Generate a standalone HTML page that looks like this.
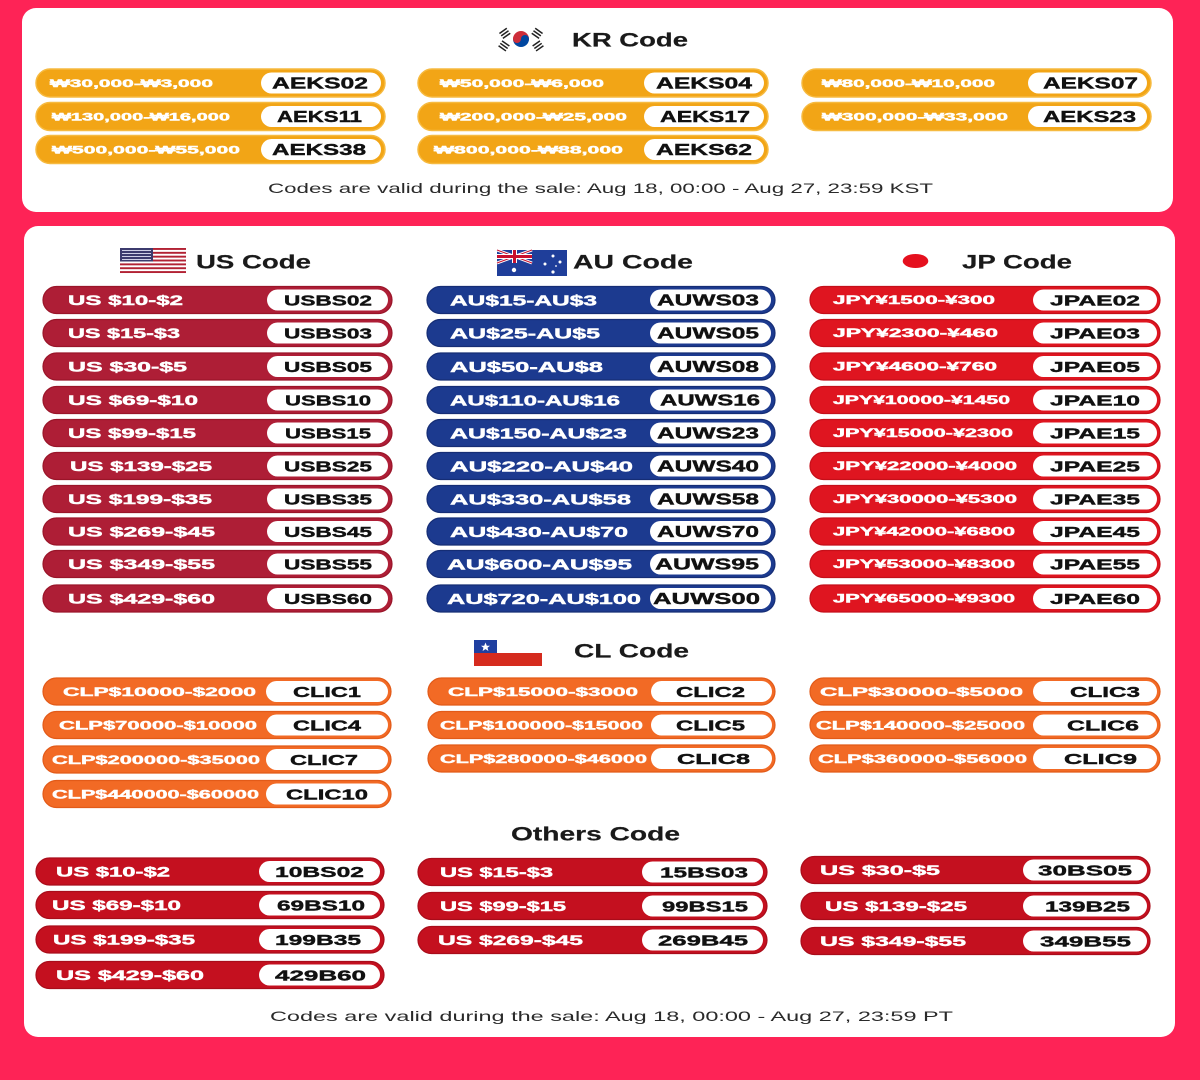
<!DOCTYPE html>
<html><head><meta charset="utf-8"><style>
html,body{margin:0;padding:0;background:#FE2356;}
svg{display:block}
text{font-family:"Liberation Sans","DejaVu Sans",sans-serif;}
.l{fill:#fff;font-weight:700;stroke:#fff;stroke-width:0.45px}
.c{fill:#111;font-weight:700;stroke:#111;stroke-width:0.4px}
.h{fill:#1a1a1a;font-weight:700;font-size:19px;stroke:#1a1a1a;stroke-width:0.2px}
.f{fill:#2a2a2a;font-weight:400;font-size:14px}
</style></head><body>
<svg width="1200" height="1080" viewBox="0 0 1200 1080" xmlns="http://www.w3.org/2000/svg">
<rect x="0" y="0" width="1200" height="1080" fill="#FE2356"/>
<rect x="22" y="8" width="1151" height="204" rx="14" fill="#fff"/>
<rect x="24" y="226" width="1151" height="811" rx="14" fill="#fff"/>

<!-- KR header -->
<rect x="497" y="28" width="48" height="22" fill="#fff"/>
<path d="M513,39 A8,8 0 0 1 529,39 Z" fill="#CD2E3A"/>
<path d="M513,39 A8,8 0 0 0 529,39 Z" fill="#0047A0"/>
<circle cx="517" cy="39" r="4" fill="#CD2E3A"/>
<circle cx="525" cy="39" r="4" fill="#0047A0"/>
<g fill="#222">
<rect x="500" y="30" width="9" height="1.5" transform="rotate(-35 504 33)"/><rect x="500" y="33" width="9" height="1.5" transform="rotate(-35 504 33)"/><rect x="500" y="36" width="9" height="1.5" transform="rotate(-35 504 33)"/>
<rect x="533" y="30" width="9" height="1.5" transform="rotate(35 538 33)"/><rect x="533" y="33" width="9" height="1.5" transform="rotate(35 538 33)"/><rect x="533" y="36" width="9" height="1.5" transform="rotate(35 538 33)"/>
<rect x="500" y="42" width="9" height="1.5" transform="rotate(35 504 45)"/><rect x="500" y="45" width="9" height="1.5" transform="rotate(35 504 45)"/><rect x="500" y="48" width="9" height="1.5" transform="rotate(35 504 45)"/>
<rect x="533" y="42" width="9" height="1.5" transform="rotate(-35 538 45)"/><rect x="533" y="45" width="9" height="1.5" transform="rotate(-35 538 45)"/><rect x="533" y="48" width="9" height="1.5" transform="rotate(-35 538 45)"/>
</g>
<text class="h" x="572" y="46.5" textLength="116" lengthAdjust="spacingAndGlyphs">KR Code</text>

<!-- KR pills -->
<g>
<rect x="36" y="69" width="349" height="28" rx="14" fill="#F2A516" stroke="#F6BA40" stroke-width="1.5"/>
<rect x="261" y="72.5" width="120" height="21" rx="10.5" fill="#fff"/>
<text class="l" x="50" y="87" font-size="11" textLength="163" lengthAdjust="spacingAndGlyphs">₩30,000-₩3,000</text>
<text class="c" x="272" y="88.7" font-size="16" textLength="96" lengthAdjust="spacingAndGlyphs">AEKS02</text>
<rect x="36" y="102.5" width="349" height="28" rx="14" fill="#F2A516" stroke="#F6BA40" stroke-width="1.5"/>
<rect x="261" y="106" width="120" height="21" rx="10.5" fill="#fff"/>
<text class="l" x="52" y="120.5" font-size="11" textLength="178" lengthAdjust="spacingAndGlyphs">₩130,000-₩16,000</text>
<text class="c" x="277" y="122.2" font-size="16" textLength="85" lengthAdjust="spacingAndGlyphs">AEKS11</text>
<rect x="36" y="135.5" width="349" height="28" rx="14" fill="#F2A516" stroke="#F6BA40" stroke-width="1.5"/>
<rect x="261" y="139" width="120" height="21" rx="10.5" fill="#fff"/>
<text class="l" x="52" y="153.5" font-size="11" textLength="188" lengthAdjust="spacingAndGlyphs">₩500,000-₩55,000</text>
<text class="c" x="272" y="155.2" font-size="16" textLength="94" lengthAdjust="spacingAndGlyphs">AEKS38</text>

<rect x="418" y="69" width="350" height="28" rx="14" fill="#F2A516" stroke="#F6BA40" stroke-width="1.5"/>
<rect x="644" y="72.5" width="120" height="21" rx="10.5" fill="#fff"/>
<text class="l" x="440" y="87" font-size="11" textLength="164" lengthAdjust="spacingAndGlyphs">₩50,000-₩6,000</text>
<text class="c" x="656" y="88.7" font-size="16" textLength="96" lengthAdjust="spacingAndGlyphs">AEKS04</text>
<rect x="418" y="102.5" width="350" height="28" rx="14" fill="#F2A516" stroke="#F6BA40" stroke-width="1.5"/>
<rect x="644" y="106" width="120" height="21" rx="10.5" fill="#fff"/>
<text class="l" x="440" y="120.5" font-size="11" textLength="187" lengthAdjust="spacingAndGlyphs">₩200,000-₩25,000</text>
<text class="c" x="660" y="122.2" font-size="16" textLength="90" lengthAdjust="spacingAndGlyphs">AEKS17</text>
<rect x="418" y="135.5" width="350" height="28" rx="14" fill="#F2A516" stroke="#F6BA40" stroke-width="1.5"/>
<rect x="644" y="139" width="120" height="21" rx="10.5" fill="#fff"/>
<text class="l" x="434" y="153.5" font-size="11" textLength="189" lengthAdjust="spacingAndGlyphs">₩800,000-₩88,000</text>
<text class="c" x="656" y="155.2" font-size="16" textLength="96" lengthAdjust="spacingAndGlyphs">AEKS62</text>

<rect x="802" y="69" width="349" height="28" rx="14" fill="#F2A516" stroke="#F6BA40" stroke-width="1.5"/>
<rect x="1028" y="72.5" width="119" height="21" rx="10.5" fill="#fff"/>
<text class="l" x="822" y="87" font-size="11" textLength="173" lengthAdjust="spacingAndGlyphs">₩80,000-₩10,000</text>
<text class="c" x="1043" y="88.7" font-size="16" textLength="95" lengthAdjust="spacingAndGlyphs">AEKS07</text>
<rect x="802" y="102.5" width="349" height="28" rx="14" fill="#F2A516" stroke="#F6BA40" stroke-width="1.5"/>
<rect x="1028" y="106" width="119" height="21" rx="10.5" fill="#fff"/>
<text class="l" x="822" y="120.5" font-size="11" textLength="186" lengthAdjust="spacingAndGlyphs">₩300,000-₩33,000</text>
<text class="c" x="1043" y="122.2" font-size="16" textLength="93" lengthAdjust="spacingAndGlyphs">AEKS23</text>
</g>
<text class="f" x="268" y="193" textLength="665" lengthAdjust="spacingAndGlyphs">Codes are valid during the sale: Aug 18, 00:00 - Aug 27, 23:59 KST</text>

<!-- US flag -->
<rect x="120" y="248" width="66" height="25" fill="#fff"/>
<g fill="#B22234">
<rect x="120" y="248" width="66" height="1.92"/><rect x="120" y="251.85" width="66" height="1.92"/><rect x="120" y="255.7" width="66" height="1.92"/><rect x="120" y="259.55" width="66" height="1.92"/><rect x="120" y="263.4" width="66" height="1.92"/><rect x="120" y="267.25" width="66" height="1.92"/><rect x="120" y="271.1" width="66" height="1.92"/>
</g>
<rect x="120" y="248" width="33" height="13.5" fill="#3C3B6E"/>
<g fill="#cfd0e6"><rect x="122" y="250" width="29" height="1"/><rect x="122" y="253" width="29" height="1"/><rect x="122" y="256" width="29" height="1"/><rect x="122" y="259" width="29" height="1"/></g>
<text class="h" x="196" y="268.5" textLength="115" lengthAdjust="spacingAndGlyphs">US Code</text>

<!-- AU flag -->
<rect x="497" y="250" width="70" height="26" fill="#1F3E9A"/>
<g>
<path d="M497,250 L532,263 M532,250 L497,263" stroke="#fff" stroke-width="3"/>
<path d="M497,250 L532,263 M532,250 L497,263" stroke="#C8102E" stroke-width="1"/>
<rect x="512" y="250" width="5" height="13" fill="#fff"/><rect x="497" y="254" width="35" height="5" fill="#fff"/>
<rect x="513" y="250" width="3" height="13" fill="#C8102E"/><rect x="497" y="255" width="35" height="3" fill="#C8102E"/>
</g>
<g fill="#fff"><circle cx="514" cy="270" r="2.2"/><circle cx="553" cy="256" r="1.5"/><circle cx="545" cy="264" r="1.5"/><circle cx="560" cy="262" r="1.5"/><circle cx="553" cy="272" r="1.6"/><circle cx="556" cy="266" r="0.9"/></g>
<text class="h" x="573" y="268.5" textLength="120" lengthAdjust="spacingAndGlyphs">AU Code</text>

<!-- JP -->
<ellipse cx="915.5" cy="261" rx="12.8" ry="7" fill="#E5101E"/>
<text class="h" x="962" y="268.5" textLength="110" lengthAdjust="spacingAndGlyphs">JP Code</text>

<!-- US pills -->
<g>
<rect x="43" y="286.5" width="349" height="27" rx="13.5" fill="#AE1E36" stroke="#9A1529" stroke-width="1.2"/><rect x="267" y="289.5" width="121" height="21" rx="10.5" fill="#fff"/>
<text class="l" x="68" y="305" font-size="14" textLength="115" lengthAdjust="spacingAndGlyphs">US $10-$2</text><text class="c" x="284" y="305.4" font-size="15" textLength="88" lengthAdjust="spacingAndGlyphs">USBS02</text>
<rect x="43" y="319.5" width="349" height="27" rx="13.5" fill="#AE1E36" stroke="#9A1529" stroke-width="1.2"/><rect x="267" y="322.5" width="121" height="21" rx="10.5" fill="#fff"/>
<text class="l" x="68" y="338" font-size="14" textLength="112" lengthAdjust="spacingAndGlyphs">US $15-$3</text><text class="c" x="284" y="338.4" font-size="15" textLength="88" lengthAdjust="spacingAndGlyphs">USBS03</text>
<rect x="43" y="353" width="349" height="27" rx="13.5" fill="#AE1E36" stroke="#9A1529" stroke-width="1.2"/><rect x="267" y="356" width="121" height="21" rx="10.5" fill="#fff"/>
<text class="l" x="68" y="371.5" font-size="14" textLength="119" lengthAdjust="spacingAndGlyphs">US $30-$5</text><text class="c" x="284" y="371.9" font-size="15" textLength="88" lengthAdjust="spacingAndGlyphs">USBS05</text>
<rect x="43" y="386.5" width="349" height="27" rx="13.5" fill="#AE1E36" stroke="#9A1529" stroke-width="1.2"/><rect x="267" y="389.5" width="121" height="21" rx="10.5" fill="#fff"/>
<text class="l" x="68" y="405" font-size="14" textLength="130" lengthAdjust="spacingAndGlyphs">US $69-$10</text><text class="c" x="285" y="405.4" font-size="15" textLength="86" lengthAdjust="spacingAndGlyphs">USBS10</text>
<rect x="43" y="419.5" width="349" height="27" rx="13.5" fill="#AE1E36" stroke="#9A1529" stroke-width="1.2"/><rect x="267" y="422.5" width="121" height="21" rx="10.5" fill="#fff"/>
<text class="l" x="68" y="438" font-size="14" textLength="128" lengthAdjust="spacingAndGlyphs">US $99-$15</text><text class="c" x="285" y="438.4" font-size="15" textLength="86" lengthAdjust="spacingAndGlyphs">USBS15</text>
<rect x="43" y="452.5" width="349" height="27" rx="13.5" fill="#AE1E36" stroke="#9A1529" stroke-width="1.2"/><rect x="267" y="455.5" width="121" height="21" rx="10.5" fill="#fff"/>
<text class="l" x="70" y="471" font-size="14" textLength="142" lengthAdjust="spacingAndGlyphs">US $139-$25</text><text class="c" x="284" y="471.4" font-size="15" textLength="88" lengthAdjust="spacingAndGlyphs">USBS25</text>
<rect x="43" y="485.5" width="349" height="27" rx="13.5" fill="#AE1E36" stroke="#9A1529" stroke-width="1.2"/><rect x="267" y="488.5" width="121" height="21" rx="10.5" fill="#fff"/>
<text class="l" x="68" y="504" font-size="14" textLength="144" lengthAdjust="spacingAndGlyphs">US $199-$35</text><text class="c" x="284" y="504.4" font-size="15" textLength="88" lengthAdjust="spacingAndGlyphs">USBS35</text>
<rect x="43" y="518" width="349" height="27" rx="13.5" fill="#AE1E36" stroke="#9A1529" stroke-width="1.2"/><rect x="267" y="521" width="121" height="21" rx="10.5" fill="#fff"/>
<text class="l" x="68" y="536.5" font-size="14" textLength="147" lengthAdjust="spacingAndGlyphs">US $269-$45</text><text class="c" x="284" y="536.9" font-size="15" textLength="88" lengthAdjust="spacingAndGlyphs">USBS45</text>
<rect x="43" y="550.5" width="349" height="27" rx="13.5" fill="#AE1E36" stroke="#9A1529" stroke-width="1.2"/><rect x="267" y="553.5" width="121" height="21" rx="10.5" fill="#fff"/>
<text class="l" x="68" y="569" font-size="14" textLength="147" lengthAdjust="spacingAndGlyphs">US $349-$55</text><text class="c" x="284" y="569.4" font-size="15" textLength="88" lengthAdjust="spacingAndGlyphs">USBS55</text>
<rect x="43" y="585" width="349" height="27" rx="13.5" fill="#AE1E36" stroke="#9A1529" stroke-width="1.2"/><rect x="267" y="588" width="121" height="21" rx="10.5" fill="#fff"/>
<text class="l" x="68" y="603.5" font-size="14" textLength="147" lengthAdjust="spacingAndGlyphs">US $429-$60</text><text class="c" x="284" y="603.9" font-size="15" textLength="88" lengthAdjust="spacingAndGlyphs">USBS60</text>
</g>

<!-- AU pills -->
<g>
<rect x="427" y="286.5" width="348" height="27" rx="13.5" fill="#1C3A8F" stroke="#152D75" stroke-width="1.2"/><rect x="650" y="289.5" width="121" height="21" rx="10.5" fill="#fff"/>
<text class="l" x="450" y="305.3" font-size="15" textLength="147" lengthAdjust="spacingAndGlyphs">AU$15-AU$3</text><text class="c" x="657" y="305.7" font-size="16" textLength="102" lengthAdjust="spacingAndGlyphs">AUWS03</text>
<rect x="427" y="319.5" width="348" height="27" rx="13.5" fill="#1C3A8F" stroke="#152D75" stroke-width="1.2"/><rect x="650" y="322.5" width="121" height="21" rx="10.5" fill="#fff"/>
<text class="l" x="450" y="338.3" font-size="15" textLength="150" lengthAdjust="spacingAndGlyphs">AU$25-AU$5</text><text class="c" x="657" y="338.7" font-size="16" textLength="102" lengthAdjust="spacingAndGlyphs">AUWS05</text>
<rect x="427" y="353" width="348" height="27" rx="13.5" fill="#1C3A8F" stroke="#152D75" stroke-width="1.2"/><rect x="650" y="356" width="121" height="21" rx="10.5" fill="#fff"/>
<text class="l" x="450" y="371.8" font-size="15" textLength="153" lengthAdjust="spacingAndGlyphs">AU$50-AU$8</text><text class="c" x="657" y="372.2" font-size="16" textLength="102" lengthAdjust="spacingAndGlyphs">AUWS08</text>
<rect x="427" y="386.5" width="348" height="27" rx="13.5" fill="#1C3A8F" stroke="#152D75" stroke-width="1.2"/><rect x="650" y="389.5" width="121" height="21" rx="10.5" fill="#fff"/>
<text class="l" x="450" y="405.3" font-size="15" textLength="170" lengthAdjust="spacingAndGlyphs">AU$110-AU$16</text><text class="c" x="660" y="405.7" font-size="16" textLength="100" lengthAdjust="spacingAndGlyphs">AUWS16</text>
<rect x="427" y="419.5" width="348" height="27" rx="13.5" fill="#1C3A8F" stroke="#152D75" stroke-width="1.2"/><rect x="650" y="422.5" width="121" height="21" rx="10.5" fill="#fff"/>
<text class="l" x="450" y="438.3" font-size="15" textLength="177" lengthAdjust="spacingAndGlyphs">AU$150-AU$23</text><text class="c" x="657" y="438.7" font-size="16" textLength="102" lengthAdjust="spacingAndGlyphs">AUWS23</text>
<rect x="427" y="452.5" width="348" height="27" rx="13.5" fill="#1C3A8F" stroke="#152D75" stroke-width="1.2"/><rect x="650" y="455.5" width="121" height="21" rx="10.5" fill="#fff"/>
<text class="l" x="450" y="471.3" font-size="15" textLength="183" lengthAdjust="spacingAndGlyphs">AU$220-AU$40</text><text class="c" x="657" y="471.7" font-size="16" textLength="102" lengthAdjust="spacingAndGlyphs">AUWS40</text>
<rect x="427" y="485.5" width="348" height="27" rx="13.5" fill="#1C3A8F" stroke="#152D75" stroke-width="1.2"/><rect x="650" y="488.5" width="121" height="21" rx="10.5" fill="#fff"/>
<text class="l" x="450" y="504.3" font-size="15" textLength="181" lengthAdjust="spacingAndGlyphs">AU$330-AU$58</text><text class="c" x="657" y="504.7" font-size="16" textLength="102" lengthAdjust="spacingAndGlyphs">AUWS58</text>
<rect x="427" y="518" width="348" height="27" rx="13.5" fill="#1C3A8F" stroke="#152D75" stroke-width="1.2"/><rect x="650" y="521" width="121" height="21" rx="10.5" fill="#fff"/>
<text class="l" x="450" y="536.8" font-size="15" textLength="178" lengthAdjust="spacingAndGlyphs">AU$430-AU$70</text><text class="c" x="657" y="537.2" font-size="16" textLength="102" lengthAdjust="spacingAndGlyphs">AUWS70</text>
<rect x="427" y="550.5" width="348" height="27" rx="13.5" fill="#1C3A8F" stroke="#152D75" stroke-width="1.2"/><rect x="650" y="553.5" width="121" height="21" rx="10.5" fill="#fff"/>
<text class="l" x="447" y="569.3" font-size="15" textLength="185" lengthAdjust="spacingAndGlyphs">AU$600-AU$95</text><text class="c" x="655" y="569.7" font-size="16" textLength="104" lengthAdjust="spacingAndGlyphs">AUWS95</text>
<rect x="427" y="585" width="348" height="27" rx="13.5" fill="#1C3A8F" stroke="#152D75" stroke-width="1.2"/><rect x="650" y="588" width="121" height="21" rx="10.5" fill="#fff"/>
<text class="l" x="447" y="603.8" font-size="15" textLength="194" lengthAdjust="spacingAndGlyphs">AU$720-AU$100</text><text class="c" x="653" y="604.2" font-size="16" textLength="107" lengthAdjust="spacingAndGlyphs">AUWS00</text>
</g>

<!-- JP pills -->
<g>
<rect x="810" y="286.5" width="350" height="27" rx="13.5" fill="#DF1520" stroke="#C50F19" stroke-width="1.2"/><rect x="1033" y="289.5" width="124" height="21" rx="10.5" fill="#fff"/>
<text class="l" x="833" y="304.1" font-size="11.5" textLength="162" lengthAdjust="spacingAndGlyphs">JPY¥1500-¥300</text><text class="c" x="1050" y="305.4" font-size="15" textLength="90" lengthAdjust="spacingAndGlyphs">JPAE02</text>
<rect x="810" y="319.5" width="350" height="27" rx="13.5" fill="#DF1520" stroke="#C50F19" stroke-width="1.2"/><rect x="1033" y="322.5" width="124" height="21" rx="10.5" fill="#fff"/>
<text class="l" x="833" y="337.1" font-size="11.5" textLength="165" lengthAdjust="spacingAndGlyphs">JPY¥2300-¥460</text><text class="c" x="1050" y="338.4" font-size="15" textLength="90" lengthAdjust="spacingAndGlyphs">JPAE03</text>
<rect x="810" y="353" width="350" height="27" rx="13.5" fill="#DF1520" stroke="#C50F19" stroke-width="1.2"/><rect x="1033" y="356" width="124" height="21" rx="10.5" fill="#fff"/>
<text class="l" x="833" y="370.6" font-size="11.5" textLength="164" lengthAdjust="spacingAndGlyphs">JPY¥4600-¥760</text><text class="c" x="1050" y="371.9" font-size="15" textLength="90" lengthAdjust="spacingAndGlyphs">JPAE05</text>
<rect x="810" y="386.5" width="350" height="27" rx="13.5" fill="#DF1520" stroke="#C50F19" stroke-width="1.2"/><rect x="1033" y="389.5" width="124" height="21" rx="10.5" fill="#fff"/>
<text class="l" x="833" y="404.1" font-size="11.5" textLength="177" lengthAdjust="spacingAndGlyphs">JPY¥10000-¥1450</text><text class="c" x="1050" y="405.4" font-size="15" textLength="90" lengthAdjust="spacingAndGlyphs">JPAE10</text>
<rect x="810" y="419.5" width="350" height="27" rx="13.5" fill="#DF1520" stroke="#C50F19" stroke-width="1.2"/><rect x="1033" y="422.5" width="124" height="21" rx="10.5" fill="#fff"/>
<text class="l" x="833" y="437.1" font-size="11.5" textLength="180" lengthAdjust="spacingAndGlyphs">JPY¥15000-¥2300</text><text class="c" x="1050" y="438.4" font-size="15" textLength="90" lengthAdjust="spacingAndGlyphs">JPAE15</text>
<rect x="810" y="452.5" width="350" height="27" rx="13.5" fill="#DF1520" stroke="#C50F19" stroke-width="1.2"/><rect x="1033" y="455.5" width="124" height="21" rx="10.5" fill="#fff"/>
<text class="l" x="833" y="470.1" font-size="11.5" textLength="184" lengthAdjust="spacingAndGlyphs">JPY¥22000-¥4000</text><text class="c" x="1050" y="471.4" font-size="15" textLength="90" lengthAdjust="spacingAndGlyphs">JPAE25</text>
<rect x="810" y="485.5" width="350" height="27" rx="13.5" fill="#DF1520" stroke="#C50F19" stroke-width="1.2"/><rect x="1033" y="488.5" width="124" height="21" rx="10.5" fill="#fff"/>
<text class="l" x="833" y="503.1" font-size="11.5" textLength="184" lengthAdjust="spacingAndGlyphs">JPY¥30000-¥5300</text><text class="c" x="1050" y="504.4" font-size="15" textLength="90" lengthAdjust="spacingAndGlyphs">JPAE35</text>
<rect x="810" y="518" width="350" height="27" rx="13.5" fill="#DF1520" stroke="#C50F19" stroke-width="1.2"/><rect x="1033" y="521" width="124" height="21" rx="10.5" fill="#fff"/>
<text class="l" x="833" y="535.6" font-size="11.5" textLength="182" lengthAdjust="spacingAndGlyphs">JPY¥42000-¥6800</text><text class="c" x="1050" y="536.9" font-size="15" textLength="90" lengthAdjust="spacingAndGlyphs">JPAE45</text>
<rect x="810" y="550.5" width="350" height="27" rx="13.5" fill="#DF1520" stroke="#C50F19" stroke-width="1.2"/><rect x="1033" y="553.5" width="124" height="21" rx="10.5" fill="#fff"/>
<text class="l" x="833" y="568.1" font-size="11.5" textLength="182" lengthAdjust="spacingAndGlyphs">JPY¥53000-¥8300</text><text class="c" x="1050" y="569.4" font-size="15" textLength="90" lengthAdjust="spacingAndGlyphs">JPAE55</text>
<rect x="810" y="585" width="350" height="27" rx="13.5" fill="#DF1520" stroke="#C50F19" stroke-width="1.2"/><rect x="1033" y="588" width="124" height="21" rx="10.5" fill="#fff"/>
<text class="l" x="833" y="602.6" font-size="11.5" textLength="182" lengthAdjust="spacingAndGlyphs">JPY¥65000-¥9300</text><text class="c" x="1050" y="603.9" font-size="15" textLength="90" lengthAdjust="spacingAndGlyphs">JPAE60</text>
</g>

<!-- CL header -->
<rect x="474" y="640" width="68" height="13" fill="#fff"/>
<rect x="474" y="653" width="68" height="13" fill="#D52B1E"/>
<rect x="474" y="640" width="23" height="13" fill="#1F3FA0"/>
<polygon points="485.5,642.5 486.8,645.7 490,645.8 487.5,647.8 488.4,651 485.5,649.1 482.6,651 483.5,647.8 481,645.8 484.2,645.7" fill="#fff"/>
<text class="h" x="574" y="657.5" textLength="115" lengthAdjust="spacingAndGlyphs">CL Code</text>

<!-- CL pills -->
<g>
<rect x="43" y="678" width="348" height="27" rx="13.5" fill="#F26A25" stroke="#E25A18" stroke-width="1.2"/><rect x="266" y="681" width="122" height="21" rx="10.5" fill="#fff"/>
<text class="l" x="63" y="695.8" font-size="12" textLength="193" lengthAdjust="spacingAndGlyphs">CLP$10000-$2000</text><text class="c" x="293" y="696.9" font-size="15" textLength="68" lengthAdjust="spacingAndGlyphs">CLIC1</text>
<rect x="43" y="711.5" width="348" height="27" rx="13.5" fill="#F26A25" stroke="#E25A18" stroke-width="1.2"/><rect x="266" y="714.5" width="122" height="21" rx="10.5" fill="#fff"/>
<text class="l" x="59" y="729.3" font-size="12" textLength="198" lengthAdjust="spacingAndGlyphs">CLP$70000-$10000</text><text class="c" x="293" y="730.4" font-size="15" textLength="68" lengthAdjust="spacingAndGlyphs">CLIC4</text>
<rect x="43" y="746" width="348" height="27" rx="13.5" fill="#F26A25" stroke="#E25A18" stroke-width="1.2"/><rect x="266" y="749" width="122" height="21" rx="10.5" fill="#fff"/>
<text class="l" x="52" y="763.8" font-size="12" textLength="208" lengthAdjust="spacingAndGlyphs">CLP$200000-$35000</text><text class="c" x="290" y="764.9" font-size="15" textLength="68" lengthAdjust="spacingAndGlyphs">CLIC7</text>
<rect x="43" y="780.5" width="348" height="27" rx="13.5" fill="#F26A25" stroke="#E25A18" stroke-width="1.2"/><rect x="266" y="783.5" width="122" height="21" rx="10.5" fill="#fff"/>
<text class="l" x="52" y="798.3" font-size="12" textLength="207" lengthAdjust="spacingAndGlyphs">CLP$440000-$60000</text><text class="c" x="286" y="799.4" font-size="15" textLength="82" lengthAdjust="spacingAndGlyphs">CLIC10</text>

<rect x="428" y="678" width="347" height="27" rx="13.5" fill="#F26A25" stroke="#E25A18" stroke-width="1.2"/><rect x="651" y="681" width="121" height="21" rx="10.5" fill="#fff"/>
<text class="l" x="448" y="695.8" font-size="12" textLength="190" lengthAdjust="spacingAndGlyphs">CLP$15000-$3000</text><text class="c" x="676" y="696.9" font-size="15" textLength="69" lengthAdjust="spacingAndGlyphs">CLIC2</text>
<rect x="428" y="711.5" width="347" height="27" rx="13.5" fill="#F26A25" stroke="#E25A18" stroke-width="1.2"/><rect x="651" y="714.5" width="121" height="21" rx="10.5" fill="#fff"/>
<text class="l" x="440" y="729.3" font-size="12" textLength="203" lengthAdjust="spacingAndGlyphs">CLP$100000-$15000</text><text class="c" x="676" y="730.4" font-size="15" textLength="69" lengthAdjust="spacingAndGlyphs">CLIC5</text>
<rect x="428" y="745" width="347" height="27" rx="13.5" fill="#F26A25" stroke="#E25A18" stroke-width="1.2"/><rect x="651" y="748" width="121" height="21" rx="10.5" fill="#fff"/>
<text class="l" x="440" y="762.8" font-size="12" textLength="207" lengthAdjust="spacingAndGlyphs">CLP$280000-$46000</text><text class="c" x="677" y="763.9" font-size="15" textLength="73" lengthAdjust="spacingAndGlyphs">CLIC8</text>

<rect x="810" y="678" width="350" height="27" rx="13.5" fill="#F26A25" stroke="#E25A18" stroke-width="1.2"/><rect x="1033" y="681" width="124" height="21" rx="10.5" fill="#fff"/>
<text class="l" x="820" y="695.8" font-size="12" textLength="203" lengthAdjust="spacingAndGlyphs">CLP$30000-$5000</text><text class="c" x="1070" y="696.9" font-size="15" textLength="70" lengthAdjust="spacingAndGlyphs">CLIC3</text>
<rect x="810" y="711.5" width="350" height="27" rx="13.5" fill="#F26A25" stroke="#E25A18" stroke-width="1.2"/><rect x="1033" y="714.5" width="124" height="21" rx="10.5" fill="#fff"/>
<text class="l" x="816" y="729.3" font-size="12" textLength="209" lengthAdjust="spacingAndGlyphs">CLP$140000-$25000</text><text class="c" x="1067" y="730.4" font-size="15" textLength="72" lengthAdjust="spacingAndGlyphs">CLIC6</text>
<rect x="810" y="745" width="350" height="27" rx="13.5" fill="#F26A25" stroke="#E25A18" stroke-width="1.2"/><rect x="1033" y="748" width="124" height="21" rx="10.5" fill="#fff"/>
<text class="l" x="818" y="762.8" font-size="12" textLength="209" lengthAdjust="spacingAndGlyphs">CLP$360000-$56000</text><text class="c" x="1064" y="763.9" font-size="15" textLength="73" lengthAdjust="spacingAndGlyphs">CLIC9</text>
</g>

<!-- Others -->
<text class="h" x="511" y="840.5" textLength="169" lengthAdjust="spacingAndGlyphs">Others Code</text>
<g>
<rect x="36" y="858" width="348" height="27" rx="13.5" fill="#C4101F" stroke="#A90C1A" stroke-width="1.2"/><rect x="259" y="861" width="121" height="21" rx="10.5" fill="#fff"/>
<text class="l" x="56" y="876.5" font-size="14" textLength="114" lengthAdjust="spacingAndGlyphs">US $10-$2</text><text class="c" x="275" y="876.9" font-size="15" textLength="89" lengthAdjust="spacingAndGlyphs">10BS02</text>
<rect x="36" y="891.5" width="348" height="27" rx="13.5" fill="#C4101F" stroke="#A90C1A" stroke-width="1.2"/><rect x="259" y="894.5" width="121" height="21" rx="10.5" fill="#fff"/>
<text class="l" x="52" y="910" font-size="14" textLength="129" lengthAdjust="spacingAndGlyphs">US $69-$10</text><text class="c" x="277" y="910.4" font-size="15" textLength="88" lengthAdjust="spacingAndGlyphs">69BS10</text>
<rect x="36" y="926" width="348" height="27" rx="13.5" fill="#C4101F" stroke="#A90C1A" stroke-width="1.2"/><rect x="259" y="929" width="121" height="21" rx="10.5" fill="#fff"/>
<text class="l" x="53" y="944.5" font-size="14" textLength="142" lengthAdjust="spacingAndGlyphs">US $199-$35</text><text class="c" x="275" y="944.9" font-size="15" textLength="86" lengthAdjust="spacingAndGlyphs">199B35</text>
<rect x="36" y="961.5" width="348" height="27" rx="13.5" fill="#C4101F" stroke="#A90C1A" stroke-width="1.2"/><rect x="259" y="964.5" width="121" height="21" rx="10.5" fill="#fff"/>
<text class="l" x="56" y="980" font-size="14" textLength="148" lengthAdjust="spacingAndGlyphs">US $429-$60</text><text class="c" x="275" y="980.4" font-size="15" textLength="91" lengthAdjust="spacingAndGlyphs">429B60</text>

<rect x="418" y="858.5" width="349" height="27" rx="13.5" fill="#C4101F" stroke="#A90C1A" stroke-width="1.2"/><rect x="642" y="861.5" width="121" height="21" rx="10.5" fill="#fff"/>
<text class="l" x="440" y="877" font-size="14" textLength="113" lengthAdjust="spacingAndGlyphs">US $15-$3</text><text class="c" x="660" y="877.4" font-size="15" textLength="88" lengthAdjust="spacingAndGlyphs">15BS03</text>
<rect x="418" y="892.5" width="349" height="27" rx="13.5" fill="#C4101F" stroke="#A90C1A" stroke-width="1.2"/><rect x="642" y="895.5" width="121" height="21" rx="10.5" fill="#fff"/>
<text class="l" x="440" y="911" font-size="14" textLength="126" lengthAdjust="spacingAndGlyphs">US $99-$15</text><text class="c" x="662" y="911.4" font-size="15" textLength="86" lengthAdjust="spacingAndGlyphs">99BS15</text>
<rect x="418" y="926.5" width="349" height="27" rx="13.5" fill="#C4101F" stroke="#A90C1A" stroke-width="1.2"/><rect x="642" y="929.5" width="121" height="21" rx="10.5" fill="#fff"/>
<text class="l" x="438" y="945" font-size="14" textLength="145" lengthAdjust="spacingAndGlyphs">US $269-$45</text><text class="c" x="658" y="945.4" font-size="15" textLength="90" lengthAdjust="spacingAndGlyphs">269B45</text>

<rect x="801" y="856.5" width="349" height="27" rx="13.5" fill="#C4101F" stroke="#A90C1A" stroke-width="1.2"/><rect x="1023" y="859.5" width="124" height="21" rx="10.5" fill="#fff"/>
<text class="l" x="820" y="875" font-size="14" textLength="120" lengthAdjust="spacingAndGlyphs">US $30-$5</text><text class="c" x="1038" y="875.4" font-size="15" textLength="94" lengthAdjust="spacingAndGlyphs">30BS05</text>
<rect x="801" y="892.5" width="349" height="27" rx="13.5" fill="#C4101F" stroke="#A90C1A" stroke-width="1.2"/><rect x="1023" y="895.5" width="124" height="21" rx="10.5" fill="#fff"/>
<text class="l" x="825" y="911" font-size="14" textLength="142" lengthAdjust="spacingAndGlyphs">US $139-$25</text><text class="c" x="1045" y="911.4" font-size="15" textLength="85" lengthAdjust="spacingAndGlyphs">139B25</text>
<rect x="801" y="927.5" width="349" height="27" rx="13.5" fill="#C4101F" stroke="#A90C1A" stroke-width="1.2"/><rect x="1023" y="930.5" width="124" height="21" rx="10.5" fill="#fff"/>
<text class="l" x="820" y="946" font-size="14" textLength="146" lengthAdjust="spacingAndGlyphs">US $349-$55</text><text class="c" x="1040" y="946.4" font-size="15" textLength="91" lengthAdjust="spacingAndGlyphs">349B55</text>
</g>
<text class="f" x="270" y="1021" textLength="683" lengthAdjust="spacingAndGlyphs">Codes are valid during the sale: Aug 18, 00:00 - Aug 27, 23:59 PT</text>
</svg>
</body></html>
